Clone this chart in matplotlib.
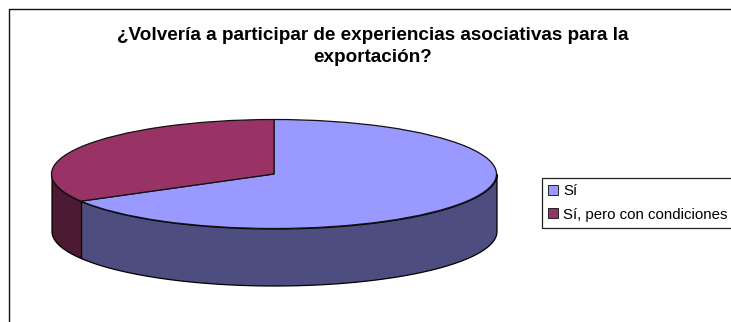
import matplotlib
matplotlib.use('Agg')
import matplotlib.pyplot as plt
from matplotlib.lines import Line2D
from matplotlib.patches import Patch
import numpy as np

W, H = 731, 322

labels = ['Sí', 'Sí, pero con condiciones']
values = [66.7, 33.3]
colors = ['#9999FF', '#993366']
side_colors = ['#4D4D80', '#4D1A33']
title = '¿Volvería a participar de experiencias asociativas para la\nexportación?'

# ellipse of the pie top, in pixels
cx, cy, rx, ry = 274, 174, 222.5, 54.5
depth = 57 / ry

plt.rcParams['font.family'] = ['Liberation Sans', 'DejaVu Sans']
fig = plt.figure(figsize=(W / 100, H / 100), dpi=100)
ax = fig.add_axes([0, 0, 1, 1])

# outer chart border, top and left only
fig.add_artist(Line2D([9 / W, 9 / W, 1], [0, 1 - 9 / H, 1 - 9 / H], color='#111111', lw=1.0))

fig.text(373 / W, 1 - 46.5 / H, title, ha='center', va='center', fontsize=13.6,
         fontweight='bold', linespacing=1.45, color='black')

# side wall of the visible front half
a_start = 90 - values[0] / sum(values) * 360 + 360
for lo, hi, c, z in [(180, a_start, side_colors[1], 1), (a_start, 360, side_colors[0], 1)]:
    t = np.radians(np.linspace(lo, hi, 200))
    ax.fill_between(np.cos(t), np.sin(t) - depth, np.sin(t), facecolor=c,
                    edgecolor='black', lw=0.9, zorder=z)

wedges, _ = ax.pie(values, colors=colors, startangle=90, counterclock=False,
                   wedgeprops={'edgecolor': '#111111', 'linewidth': 0.9, 'zorder': 2})

# unit circle squashed to the ellipse, one data unit is rx by ry pixels
ax.set_aspect('auto')
ax.set_xlim(-cx / rx, (W - cx) / rx)
ax.set_ylim((cy - H) / ry, cy / ry)
ax.axis('off')

handles = [Patch(facecolor=c, edgecolor='#222222', lw=0.7) for c in colors]
leg = fig.legend(handles, labels, loc='upper left', bbox_to_anchor=(542 / W, 1 - 178 / H),
                 bbox_transform=fig.transFigure, fontsize=10.85, fancybox=False, framealpha=1,
                 edgecolor='#222222', borderaxespad=0, borderpad=0.42, labelspacing=0.62,
                 handlelength=0.62, handleheight=0.62, handletextpad=0.35)
leg.get_frame().set_linewidth(0.9)

fig.savefig('out.png', dpi=100, facecolor='white')
